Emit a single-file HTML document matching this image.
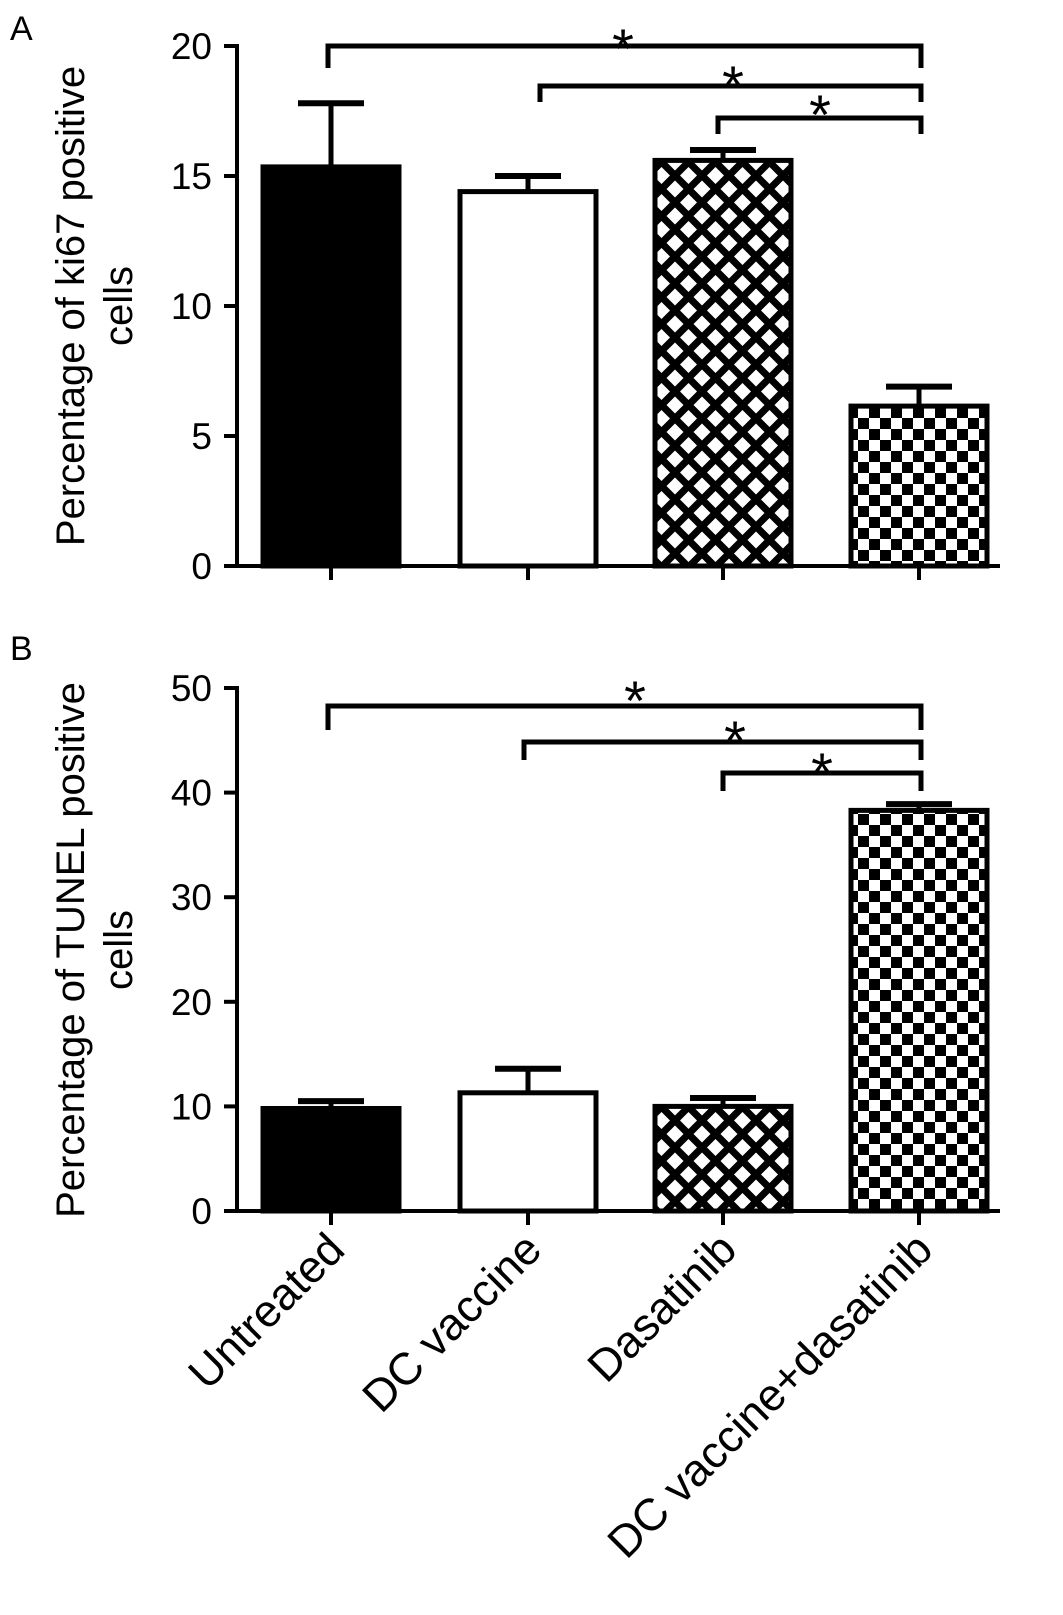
<!DOCTYPE html>
<html><head><meta charset="utf-8"><style>
body{margin:0;background:#fff}
svg{display:block;font-family:"Liberation Sans",sans-serif}
</style></head><body>
<svg id="c" width="1063" height="1615" viewBox="0 0 1063 1615" xmlns="http://www.w3.org/2000/svg">
<defs>
<pattern id="diam" width="27" height="27" patternUnits="userSpaceOnUse">
<rect width="27" height="27" fill="#000"/>
<polygon points="13.5,5 22,13.5 13.5,22 5,13.5" fill="#fff"/>
<polygon points="0,-8.5 8.5,0 0,8.5 -8.5,0" fill="#fff"/>
<polygon points="27,-8.5 35.5,0 27,8.5 18.5,0" fill="#fff"/>
<polygon points="0,18.5 8.5,27 0,35.5 -8.5,27" fill="#fff"/>
<polygon points="27,18.5 35.5,27 27,35.5 18.5,27" fill="#fff"/>
</pattern>
<pattern id="check" width="22" height="22" patternUnits="userSpaceOnUse">
<rect width="22" height="22" fill="#fff"/>
<rect width="11" height="11" fill="#000"/>
<rect x="11" y="11" width="11" height="11" fill="#000"/>
</pattern>
</defs>
<g id="g"></g>
</svg>
<script>
const categories=["Untreated","DC vaccine","Dasatinib","DC vaccine+dasatinib"];
const ki67Values=[15.35,14.4,15.6,6.15];
const ki67Errors=[2.45,0.6,0.4,0.75];
const tunelValues=[9.8,11.3,10.0,38.3];
const tunelErrors=[0.7,2.3,0.8,0.6];
const ki67Ticks=[0,5,10,15,20];
const tunelTicks=[0,10,20,30,40,50];
const fills=["#000","#fff","url(#diam)","url(#check)"];
const NS="http://www.w3.org/2000/svg";
const G=document.getElementById('g');
function el(t,a,p){const e=document.createElementNS(NS,t);for(const k in a)e.setAttribute(k,a[k]);(p||G).appendChild(e);return e;}
const centers=[331,528,723,919];const bw=136;
function xPos(i){return centers[i];}
function panel(o){
  const y=v=>o.y0-(v-o.min)/(o.max-o.min)*(o.y0-o.y1);
  const g=el('g',{});
  
  
  o.vals.forEach((v,i)=>{
    const top=y(v),eT=y(v+o.errs[i]);
    const cx=xPos(i);
    const eb=el('g',{},g);
    
    
    el('line',{x1:cx,x2:cx,y1:top,y2:eT,stroke:'#000','stroke-width':5},eb);
    el('line',{x1:cx-33,x2:cx+33,y1:eT,y2:eT,stroke:'#000','stroke-width':6},eb);
    const r=el('rect',{x:cx-bw/2,y:top,width:bw,height:o.y0-top,fill:fills[i],stroke:'#000','stroke-width':5},g);
    
    
  });
  const ya=el('line',{x1:237,x2:237,y1:o.y1-2,y2:o.y0+2,stroke:'#000','stroke-width':4},g);
  
  
  const xa=el('line',{x1:237,x2:1000,y1:o.y0,y2:o.y0,stroke:'#000','stroke-width':4},g);
  
  
  centers.forEach(c=>el('line',{x1:c,x2:c,y1:o.y0,y2:o.y0+14,stroke:'#000','stroke-width':4},g));
  o.ticks.forEach(t=>{
    const ty=y(t);
    el('line',{x1:224,x2:237,y1:ty,y2:ty,stroke:'#000','stroke-width':4},g);
    const tx=el('text',{x:212,y:ty+13,'text-anchor':'end','font-size':37},g);
    tx.textContent=t;
    
    
  });
  const tt=el('text',{transform:`translate(84,${o.ty}) rotate(-90)`,'text-anchor':'middle','font-size':40},g);
  tt.textContent=o.title;
  
  
  const t2=el('text',{transform:`translate(132,${o.ty}) rotate(-90)`,'text-anchor':'middle','font-size':40},g);
  t2.textContent='cells';
  
  
  o.brk.forEach(b=>{
    const bg=el('g',{},g);
    
    
    el('polyline',{points:`${b[0]},${b[1]+b[2]} ${b[0]},${b[1]} 921,${b[1]} 921,${b[1]+b[2]}`,fill:'none',stroke:'#000','stroke-width':5},bg);
    const s=el('text',{x:b[3],y:b[4]+30,'text-anchor':'middle','font-size':56},bg);
    s.textContent='*';
  });
  const pl=el('text',{x:10,y:o.ly,'font-size':34},g);
  pl.textContent=o.letter;
  
  
}
panel({name:'ki67',y0:566,y1:46,min:0,max:20,vals:ki67Values,errs:ki67Errors,ticks:ki67Ticks,title:'Percentage of ki67 positive',ty:306,letter:'A',ly:40,
  brk:[[328,46,22,623,38],[540,86,16,733,75],[718,118,16,820,104]]});
panel({name:'tunel',y0:1211,y1:688,min:0,max:50,vals:tunelValues,errs:tunelErrors,ticks:tunelTicks,title:'Percentage of TUNEL positive',ty:950,letter:'B',ly:660,
  brk:[[328,706,24,635,690],[524,742,18,735,730],[723,773,18,822,762]]});
categories.forEach((c,i)=>{
  const t=el('text',{transform:`translate(${xPos(i)+16},1252) rotate(-45)`,'text-anchor':'end','font-size':45});
  t.textContent=c;
  
  
});
</script>
</body></html>
